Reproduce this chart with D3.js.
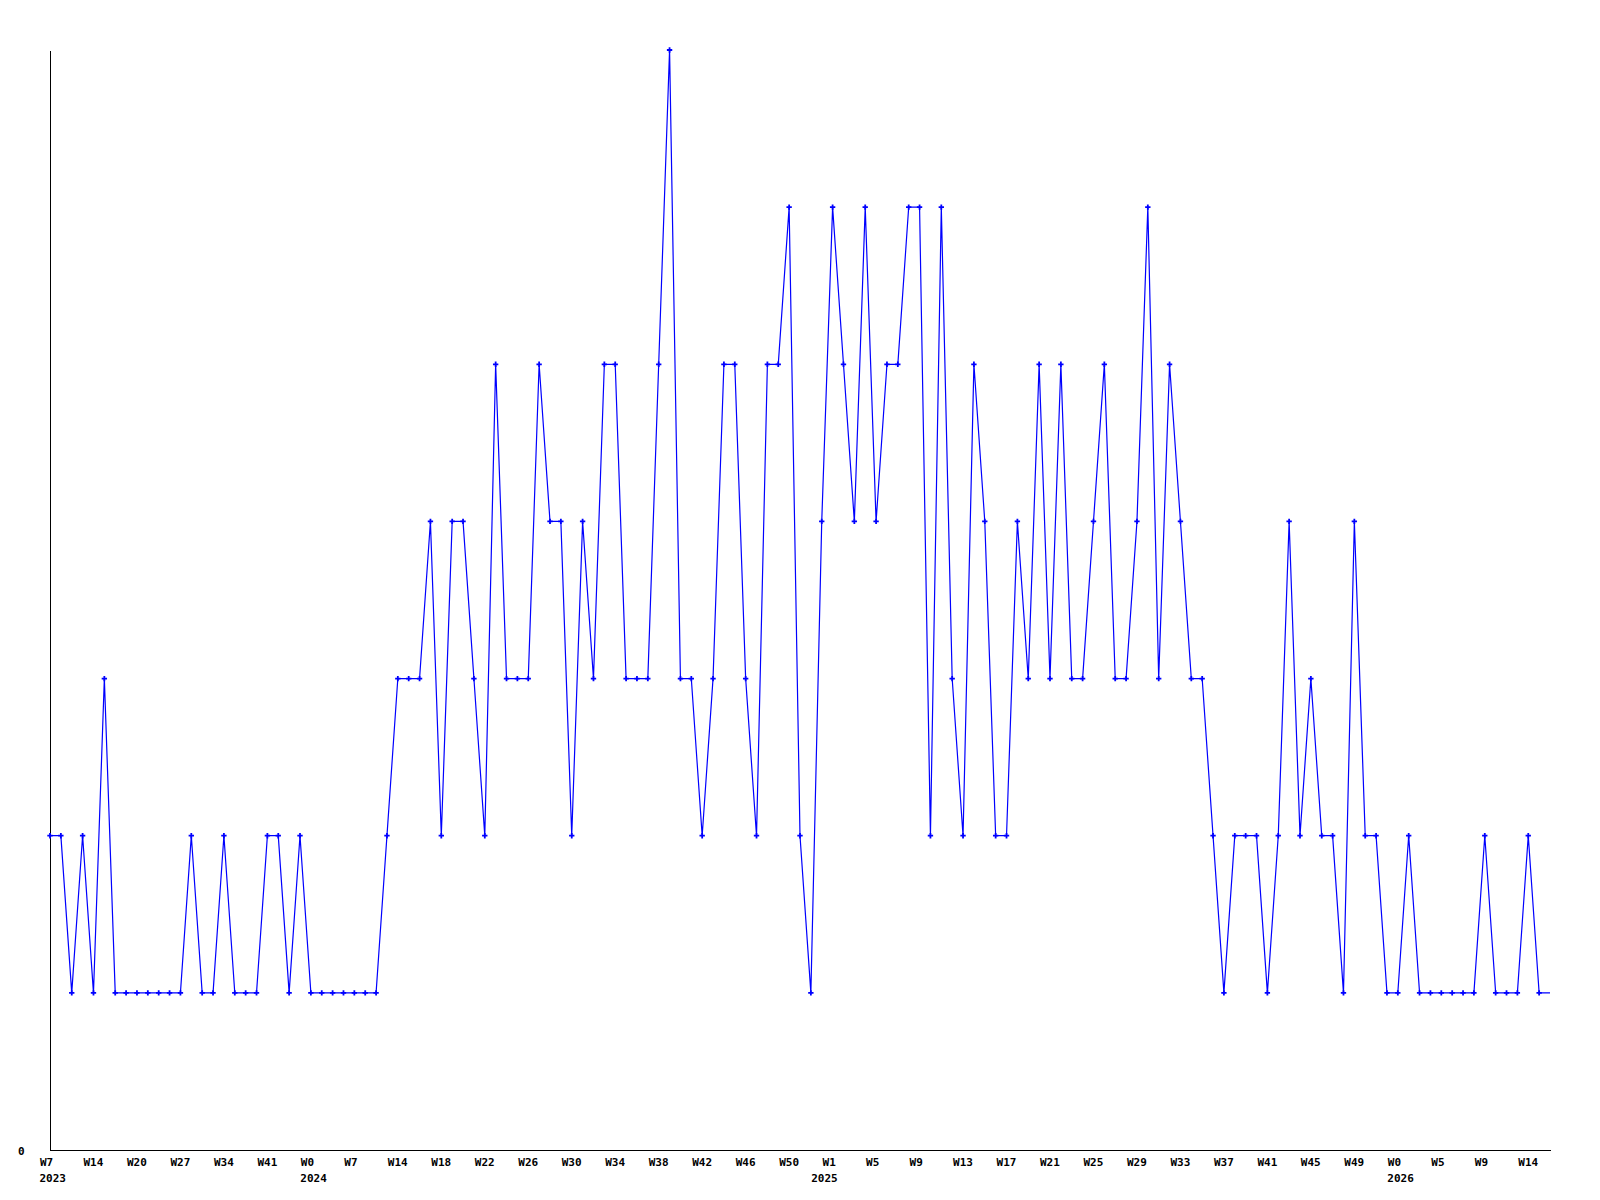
<html>
<head>
<script src="https://d3js.org/d3.v7.min.js"></script>
<style>
  body { margin: 0; background: #fff; }
  svg text { font-family: "DejaVu Sans Mono", monospace; font-weight: bold; font-size: 11px; fill: #000; }
</style>
</head>
<body>
<svg id="chart"></svg>
<script>
// one value per week, in order (the last one is the current week, drawn without a marker)
var values = [
  2, 2, 1, 2, 1, 3, 1, 1, 1, 1, 1, 1, 1, 2, 1, 1, 2, 1, 1, 1,
  2, 2, 1, 2, 1, 1, 1, 1, 1, 1, 1, 2, 3, 3, 3, 4, 2, 4, 4, 3,
  2, 5, 3, 3, 3, 5, 4, 4, 2, 4, 3, 5, 5, 3, 3, 3, 5, 7, 3, 3,
  2, 3, 5, 5, 3, 2, 5, 5, 6, 2, 1, 4, 6, 5, 4, 6, 4, 5, 5, 6,
  6, 2, 6, 3, 2, 5, 4, 2, 2, 4, 3, 5, 3, 5, 3, 3, 4, 5, 3, 3,
  4, 6, 3, 5, 4, 3, 3, 2, 1, 2, 2, 2, 1, 2, 4, 2, 3, 2, 2, 1,
  4, 2, 2, 1, 1, 2, 1, 1, 1, 1, 1, 1, 2, 1, 1, 1, 2, 1, 1
];

// week labels, one every 4th point
var weekLabels = [
  "W7", "W14", "W20", "W27", "W34", "W41", "W0", "W7", "W14", "W18",
  "W22", "W26", "W30", "W34", "W38", "W42", "W46", "W50", "W1", "W5",
  "W9", "W13", "W17", "W21", "W25", "W29", "W33", "W37", "W41", "W45",
  "W49", "W0", "W5", "W9", "W14"
];
var labelStep = 4;

// year label at the first week of each year
var yearLabels = ["2023", "2024", "2025", "2026"];
var yearAt = [0, 24, 71, 124];

var yTicks = [0];
var yMax = 7;

var width = 1600, height = 1200;
var mLeft = 50, mRight = 1550, mTop = 50, mBottom = 1150;

var svg = d3.select("#chart")
    .attr("width", width)
    .attr("height", height);

var x = d3.scaleLinear().domain([0, values.length - 1]).range([mLeft, mRight]);
var y = d3.scaleLinear().domain([0, yMax]).range([mBottom, mTop]);

var tickIdx = weekLabels.map((d, i) => i * labelStep);

// x axis
var xAxis = svg.append("g")
    .attr("transform", `translate(0,${mBottom})`)
    .call(d3.axisBottom(x)
      .tickValues(tickIdx)
      .tickSize(0)
      .tickSizeOuter(0)
      .tickFormat((d, i) => weekLabels[i]));

xAxis.select(".domain").attr("stroke", "#000").attr("shape-rendering", "crispEdges");
xAxis.selectAll(".tick text")
    .attr("text-anchor", "start")
    .attr("x", -10.5)
    .attr("y", 16)
    .attr("dy", null);

// years
svg.append("g")
  .selectAll("text")
  .data(yearLabels)
  .join("text")
    .attr("x", (d, i) => x(yearAt[i]) - 10.5)
    .attr("y", mBottom + 32)
    .text(d => d);

// y axis
var yAxis = svg.append("g")
    .attr("transform", `translate(${mLeft},0)`)
    .call(d3.axisLeft(y)
      .tickValues(yTicks)
      .tickSize(0)
      .tickSizeOuter(0)
      .tickFormat(d3.format("d")));

yAxis.select(".domain").attr("stroke", "#000").attr("shape-rendering", "crispEdges");
yAxis.selectAll(".tick text")
    .attr("text-anchor", "start")
    .attr("x", -32)
    .attr("y", 4)
    .attr("dy", null);

svg.selectAll(".tick line").remove();

// line
var line = d3.line()
    .x((d, i) => x(i))
    .y(d => y(d));

svg.append("path")
    .datum(values)
    .attr("fill", "none")
    .attr("stroke", "#0000ff")
    .attr("stroke-width", 1.2)
    .attr("d", line);

// markers
var marker = d3.symbol().type(d3.symbolCross).size(16);
svg.append("g")
  .selectAll("path")
  .data(values.slice(0, values.length - 1))
  .join("path")
    .attr("transform", (d, i) => `translate(${x(i)},${y(d)})`)
    .attr("d", marker)
    .attr("fill", "#0000ff");
</script>
</body>
</html>
